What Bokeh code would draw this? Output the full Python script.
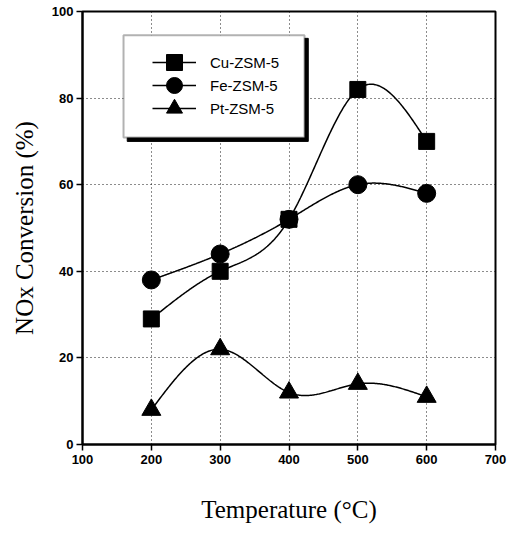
import numpy as np
from bokeh.plotting import figure
from bokeh.models import Legend, LegendItem, FixedTicker, BoxAnnotation
from bokeh.embed import file_html
from bokeh.resources import INLINE

temps = [200, 300, 400, 500, 600]
cu = [29, 40, 52, 82, 70]
fe = [38, 44, 52, 60, 58]
pt = [8, 22, 12, 14, 11]
x_ticks = [100, 200, 300, 400, 500, 600, 700]
y_ticks = [0, 20, 40, 60, 80, 100]


def spline(x, y, n=300):
    x = np.asarray(x, float)
    y = np.asarray(y, float)
    k = len(x)
    h = np.diff(x)
    A = np.zeros((k, k))
    b = np.zeros(k)
    A[0, 0] = 1
    A[-1, -1] = 1
    for i in range(1, k - 1):
        A[i, i - 1] = h[i - 1]
        A[i, i] = 2 * (h[i - 1] + h[i])
        A[i, i + 1] = h[i]
        b[i] = 3 * ((y[i + 1] - y[i]) / h[i] - (y[i] - y[i - 1]) / h[i - 1])
    c = np.linalg.solve(A, b)
    xs = np.linspace(x[0], x[-1], n)
    ys = np.empty_like(xs)
    for j, xx in enumerate(xs):
        i = min(max(np.searchsorted(x, xx, side="right") - 1, 0), k - 2)
        dx = xx - x[i]
        bi = (y[i + 1] - y[i]) / h[i] - h[i] * (2 * c[i] + c[i + 1]) / 3
        di = (c[i + 1] - c[i]) / (3 * h[i])
        ys[j] = y[i] + bi * dx + c[i] * dx ** 2 + di * dx ** 3
    return xs, ys


p = figure(width=514, height=538, x_range=(100, 700), y_range=(0, 100),
           output_backend="svg", toolbar_location=None,
           min_border_left=82, min_border_right=19, min_border_top=11, min_border_bottom=94)

p.background_fill_color = "white"
p.border_fill_color = "white"
p.outline_line_color = "black"
p.outline_line_width = 2

for ax in (p.xaxis[0], p.yaxis[0]):
    ax.axis_line_width = 2
    ax.axis_line_color = "black"
    ax.major_tick_out = 6
    ax.major_tick_in = 0
    ax.major_tick_line_width = 1.5
    ax.minor_tick_out = 0
    ax.minor_tick_in = 0
    ax.major_label_text_font = "Liberation Sans"
    ax.major_label_text_font_style = "bold"
    ax.major_label_text_font_size = "13px"
    ax.major_label_text_color = "black"
    ax.axis_label_text_font = "Liberation Serif"
    ax.axis_label_text_font_style = "normal"
    ax.axis_label_text_font_size = "25px"
    ax.axis_label_text_color = "black"

p.xaxis.ticker = FixedTicker(ticks=x_ticks)
p.yaxis.ticker = FixedTicker(ticks=y_ticks)
p.xaxis.major_label_standoff = 4
p.yaxis.major_label_standoff = 3
p.xaxis.axis_label = "Temperature (°C)"
p.yaxis.axis_label = "NOx Conversion (%)"
p.xaxis.axis_label_standoff = 29
p.yaxis.axis_label_standoff = 11

for g in (p.xgrid[0], p.ygrid[0]):
    g.grid_line_color = "black"
    g.grid_line_dash = "1 3"
    g.grid_line_width = 1
    g.grid_line_alpha = 0.9

# legend box with shadow (layout decoration)
shadow = BoxAnnotation(left=165.0, right=428.0, top=93.8, bottom=70.0,
                       fill_color="#000000", fill_alpha=1.0, line_color="#000000",
                       line_alpha=1.0, line_width=1, level="overlay")
box = BoxAnnotation(left=159.6, right=422.5, top=94.5, bottom=70.9,
                    fill_color="white", fill_alpha=1.0, line_color="black", line_width=2,
                    level="overlay")
p.add_layout(shadow)
p.add_layout(box)

series = [("Cu-ZSM-5", cu, "square"), ("Fe-ZSM-5", fe, "circle"), ("Pt-ZSM-5", pt, "triangle")]
sizes = {"square": 16, "circle": 18, "triangle": 19}
legend_y = [362, 339, 316]
for (name, ys, mk), ly in zip(series, legend_y):
    sx, sy = spline(temps, ys)
    ln = p.line(sx, sy, line_color="black", line_width=1.5)
    sc = p.scatter(temps, ys, marker=mk, size=sizes[mk], fill_color="black", line_color="black")
    lg = Legend(items=[LegendItem(label=name, renderers=[ln, sc])], location=(70, ly),
                orientation="vertical", glyph_height=40, glyph_width=44, spacing=0, padding=0,
                margin=0, label_standoff=14, label_height=40,
                label_text_font="Liberation Sans", label_text_font_size="15px",
                label_text_color="black",
                background_fill_alpha=0, border_line_color=None)
    p.add_layout(lg, "center")

open("out.html", "w").write(file_html(p, INLINE))
